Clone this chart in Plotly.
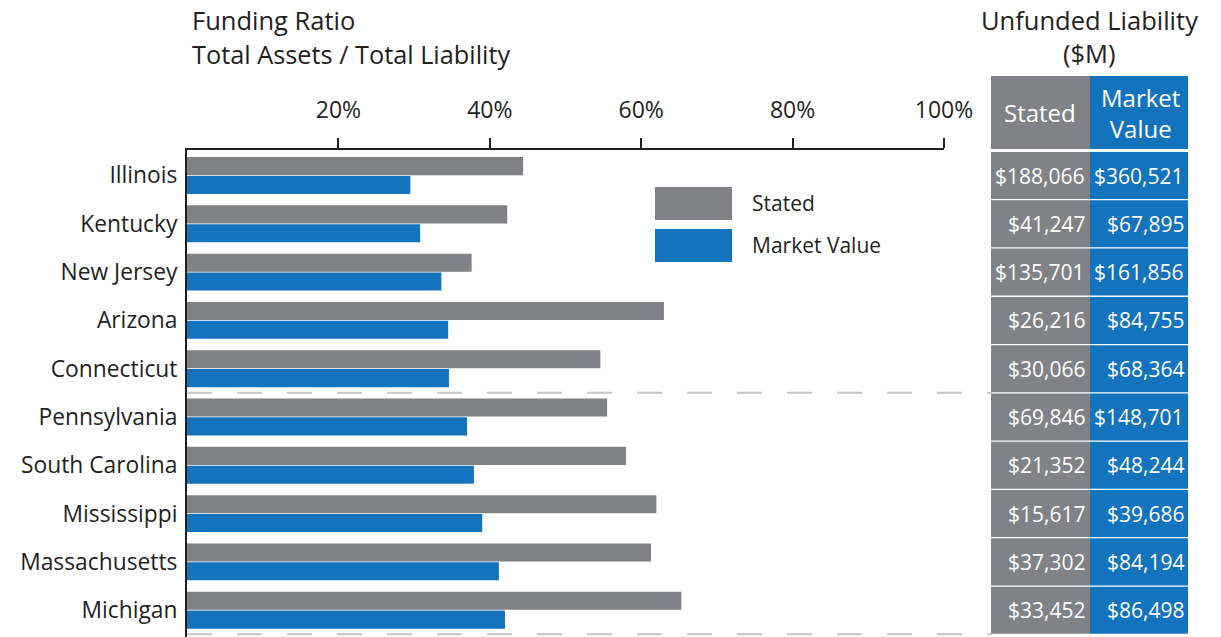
import plotly.graph_objects as go

W, H = 1221, 637

states = ["Illinois", "Kentucky", "New Jersey", "Arizona", "Connecticut",
          "Pennsylvania", "South Carolina", "Mississippi", "Massachusetts", "Michigan"]
stated_ratio = [44.4, 42.3, 37.6, 63.0, 54.6, 55.5, 58.0, 62.0, 61.3, 65.3]
market_ratio = [29.5, 30.8, 33.6, 34.5, 34.6, 37.0, 37.9, 39.0, 41.2, 42.0]
stated_unfunded = ["$188,066", "$41,247", "$135,701", "$26,216", "$30,066",
                   "$69,846", "$21,352", "$15,617", "$37,302", "$33,452"]
market_unfunded = ["$360,521", "$67,895", "$161,856", "$84,755", "$68,364",
                   "$148,701", "$48,244", "$39,686", "$84,194", "$86,498"]
x_ticks = [20, 40, 60, 80, 100]
x_ticktext = ["20%", "40%", "60%", "80%", "100%"]

GRAY = "#808285"
BLUE = "#1373BD"
DARK = "#231F20"
FONT = "Open Sans"


def px(x):
    return x / W


def py(y):
    return 1 - y / H


fig = go.Figure()
fig.add_trace(go.Bar(y=states, x=stated_ratio, orientation="h", name="Stated",
                     marker=dict(color=GRAY, line=dict(width=0)), showlegend=False))
fig.add_trace(go.Bar(y=states, x=market_ratio, orientation="h", name="Market Value",
                     marker=dict(color=BLUE, line=dict(width=0)), showlegend=False))

shapes = []
annotations = []

# dashed separators
for yv in [4.5, 9.5]:
    shapes.append(dict(type="line", xref="paper", yref="y", x0=px(187), x1=px(992),
                       y0=yv, y1=yv, line=dict(color="#C6C6C6", width=2, dash="25px,25px"),
                       layer="below"))

# table header
shapes.append(dict(type="rect", xref="paper", yref="paper", x0=px(991), x1=px(1090),
                   y0=py(149), y1=py(76), fillcolor=GRAY, line=dict(width=0)))
shapes.append(dict(type="rect", xref="paper", yref="paper", x0=px(1090), x1=px(1188),
                   y0=py(149), y1=py(76), fillcolor=BLUE, line=dict(width=0)))
annotations.append(dict(xref="paper", yref="paper", x=px(1040), y=py(113), text="Stated",
                        showarrow=False, xanchor="center", yanchor="middle",
                        font=dict(family=FONT, size=24, color="white")))
annotations.append(dict(xref="paper", yref="paper", x=px(1140), y=py(113), text="Market<br>Value",
                        showarrow=False, xanchor="center", yanchor="middle",
                        font=dict(family=FONT, size=24, color="white")))

# table cells
for i, s in enumerate(states):
    shapes.append(dict(type="rect", xref="paper", yref="y", x0=px(991), x1=px(1090),
                       y0=i - 0.487, y1=i + 0.487, fillcolor=GRAY, line=dict(width=0)))
    shapes.append(dict(type="rect", xref="paper", yref="y", x0=px(1090), x1=px(1188),
                       y0=i - 0.487, y1=i + 0.487, fillcolor=BLUE, line=dict(width=0)))
    annotations.append(dict(xref="paper", yref="y", x=px(1087), y=i, text=stated_unfunded[i],
                            showarrow=False, xanchor="right", yanchor="middle",
                            font=dict(family=FONT, size=21, color="white")))
    annotations.append(dict(xref="paper", yref="y", x=px(1186), y=i, text=market_unfunded[i],
                            showarrow=False, xanchor="right", yanchor="middle",
                            font=dict(family=FONT, size=21, color="white")))

# legend
shapes.append(dict(type="rect", xref="paper", yref="paper", x0=px(655), x1=px(732),
                   y0=py(220), y1=py(187), fillcolor=GRAY, line=dict(width=0)))
shapes.append(dict(type="rect", xref="paper", yref="paper", x0=px(655), x1=px(732),
                   y0=py(262), y1=py(229), fillcolor=BLUE, line=dict(width=0)))
annotations.append(dict(xref="paper", yref="paper", x=px(750), y=py(203), text="Stated",
                        showarrow=False, xanchor="left", yanchor="middle",
                        font=dict(family=FONT, size=21, color=DARK)))
annotations.append(dict(xref="paper", yref="paper", x=px(750), y=py(245), text="Market Value",
                        showarrow=False, xanchor="left", yanchor="middle",
                        font=dict(family=FONT, size=21, color=DARK)))

# titles
annotations.append(dict(xref="paper", yref="paper", x=px(190), y=py(20), text="Funding Ratio",
                        showarrow=False, xanchor="left", yanchor="middle",
                        font=dict(family=FONT, size=25.5, color=DARK)))
annotations.append(dict(xref="paper", yref="paper", x=px(190), y=py(54),
                        text="Total Assets / Total Liability",
                        showarrow=False, xanchor="left", yanchor="middle",
                        font=dict(family=FONT, size=25.3, color=DARK)))
annotations.append(dict(xref="paper", yref="paper", x=px(1089), y=py(20), text="Unfunded Liability",
                        showarrow=False, xanchor="center", yanchor="middle",
                        font=dict(family=FONT, size=25.5, color=DARK)))
annotations.append(dict(xref="paper", yref="paper", x=px(1089), y=py(53), text="($M)",
                        showarrow=False, xanchor="center", yanchor="middle",
                        font=dict(family=FONT, size=25.5, color=DARK)))

fig.update_layout(
    width=W, height=H, autosize=False,
    margin=dict(l=0, r=0, t=0, b=0, pad=0, autoexpand=False),
    paper_bgcolor="white", plot_bgcolor="white",
    barmode="group", bargap=0.22, bargroupgap=0.04,
    shapes=shapes, annotations=annotations,
    xaxis=dict(domain=[px(187), px(944)], range=[0, 100], side="top", automargin=False,
               tickvals=x_ticks, ticktext=x_ticktext, ticks="outside", ticklen=10,
               tickwidth=2, tickcolor=DARK, showline=True, linecolor=DARK, linewidth=2,
               showgrid=False, zeroline=False, ticklabelstandoff=11,
               tickfont=dict(family=FONT, size=23, color=DARK)),
    yaxis=dict(domain=[0, py(150)], range=[9.555, -0.528], type="category", automargin=False,
               categoryorder="array", categoryarray=states,
               showline=True, linecolor=DARK, linewidth=2, ticks="", showgrid=False,
               zeroline=False, ticklabelstandoff=3,
               tickfont=dict(family=FONT, size=22.8, color=DARK)),
    font=dict(family=FONT),
)

fig.write_html("out.html", config={"responsive": False},
               post_script="document.body.style.margin='0px';document.body.style.overflow='hidden';")
